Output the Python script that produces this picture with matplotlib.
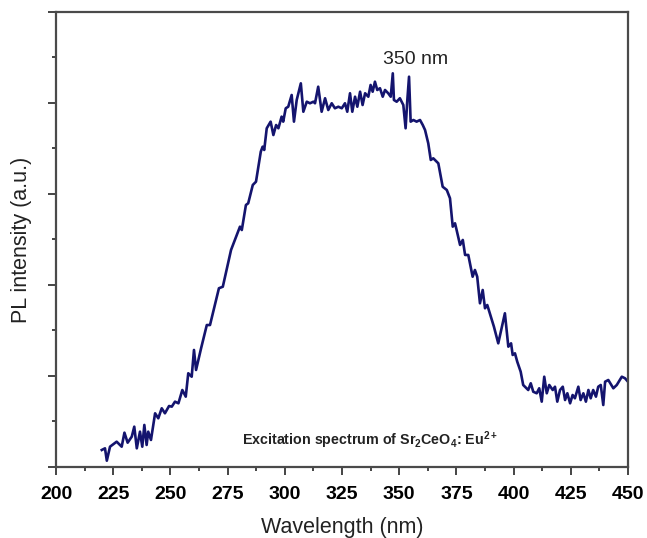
import matplotlib.pyplot as plt
import numpy as np

plt.rcParams['font.family'] = 'Liberation Sans'
plt.rcParams['mathtext.fontset'] = 'custom'
plt.rcParams['mathtext.bf'] = 'Liberation Sans:bold'
plt.rcParams['mathtext.rm'] = 'Liberation Sans'

# Excitation spectrum
wavelength = [
    220.0, 221.4, 222.2, 223.6, 226.5, 228.7, 229.9, 231.3, 233.1, 234.2,
    235.3, 236.7, 237.7, 238.6, 239.6, 240.3, 241.5, 243.3, 244.7, 246.2,
    247.6, 249.4, 250.6, 252.0, 253.5, 255.2, 256.7, 257.8, 259.3, 260.3,
    261.2, 263.4, 265.9, 267.3, 271.2, 272.9, 276.5,
    280.4, 281.2, 283.0, 284.0, 286.0, 287.4, 289.5, 290.3, 291.0, 292.1,
    293.8, 295.0, 296.2, 297.2, 298.6, 299.3, 300.4, 301.5, 303.0, 304.0,
    305.2, 307.0, 308.1, 309.6, 311.0, 312.5, 313.2, 314.6, 316.1, 317.6,
    319.0, 320.5, 321.9, 323.4, 324.9, 326.3, 327.3, 328.5, 329.5, 330.7,
    331.7, 332.9, 334.0, 335.1, 336.5, 337.5, 338.4, 339.4, 340.4, 341.6,
    342.8, 343.8, 345.2, 346.3, 347.2, 347.7, 348.9, 350.3, 351.8, 352.8,
    353.5, 354.3, 355.0, 356.2, 357.6, 359.1, 360.3, 361.3, 362.7, 363.8,
    364.9, 367.1,
    369.0, 370.8, 372.2, 373.4, 374.4, 375.1, 376.6, 377.8, 378.8, 380.2,
    382.1, 383.1, 384.1, 385.3, 386.5, 387.5, 388.5, 389.4, 391.4, 393.3,
    396.2, 397.7, 398.9, 399.6, 400.6, 401.6, 403.1, 404.2, 406.4, 407.5,
    408.6, 410.1, 411.2, 412.3, 413.4, 414.5, 415.6, 417.1, 418.1, 419.1,
    420.3, 421.5, 422.5, 423.5, 424.7, 425.8, 426.8, 428.3, 429.3, 430.5,
    431.6, 432.7, 433.7, 434.8, 436.0, 437.0, 438.1, 439.2, 440.0, 441.4,
    443.6, 445.1, 447.3, 448.7, 450.0,
]
intensity = [
    18.7, 20.5, 6.9, 22.3, 27.8, 22.3, 37.7, 26.7, 33.3, 44.3,
    20.5, 38.8, 22.3, 46.2, 24.2, 38.8, 29.7, 59.0, 53.5, 64.5,
    59.0, 67.0, 66.3, 71.8, 70.0, 84.6, 77.3, 103.0, 99.2, 128.6,
    106.6, 130.4, 156.0, 156.0, 196.4, 198.1, 238.5,
    264.1, 260.4, 287.9, 289.8, 309.9, 313.5, 346.5, 352.0, 348.4, 372.2,
    379.5, 364.8, 375.8, 372.2, 385.0, 379.5, 394.2, 395.9, 408.8, 379.5,
    403.3, 421.6, 390.4, 401.4, 399.7, 401.4, 399.7, 417.9, 390.4, 405.2,
    392.3, 399.7, 394.2, 395.9, 394.2, 399.7, 390.4, 410.7, 390.4, 406.9,
    395.9, 412.4, 397.8, 410.7, 406.9, 419.8, 412.4, 423.4, 414.3, 416.2,
    406.9, 414.3, 410.7, 406.9, 432.6, 403.3, 401.4, 405.2, 397.8, 372.2,
    401.4, 428.9, 379.5, 381.3, 379.5, 381.3, 375.8, 370.3, 355.7, 337.4,
    339.2, 333.7,
    308.0, 304.4, 295.3, 264.1, 267.8, 260.4, 244.0, 249.5, 233.0, 233.0,
    209.1, 216.5, 209.1, 179.9, 194.5, 174.4, 178.0, 170.7, 154.2, 135.9,
    168.9, 132.2, 135.9, 123.1, 124.9, 115.7, 104.7, 90.1, 84.6, 92.0,
    82.7, 81.0, 86.5, 71.8, 99.2, 81.0, 90.1, 84.6, 88.2, 71.8,
    84.6, 88.2, 73.6, 81.0, 70.0, 79.1, 75.5, 88.2, 73.6, 81.0,
    71.8, 84.6, 75.5, 84.6, 77.3, 88.2, 90.1, 68.1, 93.7, 95.6,
    86.5, 90.1, 99.2, 97.5, 93.7,
]

x_ticks = np.arange(200, 451, 25)

fig = plt.figure(figsize=(6.47, 5.38), dpi=100)
ax = fig.add_axes([0.0866, 0.132, 0.884, 0.8457])

ax.plot(wavelength, intensity, color='#14146e', linewidth=1.9)

ax.set_xlim(200, 450)
ax.set_ylim(0, 500)
ax.set_xticks(x_ticks)
ax.set_xticks(np.arange(212.5, 450, 25), minor=True)
ax.set_yticks(np.arange(0, 501, 100))
ax.set_yticks(np.arange(50, 500, 100), minor=True)
ax.tick_params(which='major', direction='out', length=5.5, width=1.4, color='#444444',
               labelsize=14, pad=8)
ax.tick_params(which='minor', direction='out', length=3, width=1.4, color='#444444')
ax.tick_params(axis='y', which='both', labelleft=False)
for lab in ax.get_xticklabels():
    lab.set_fontweight('bold')
for sp in ax.spines.values():
    sp.set_linewidth(1.6)
    sp.set_color('#4a4a4a')

ax.set_xlabel('Wavelength (nm)', fontsize=15.5, labelpad=10, color='#222222')
ax.set_ylabel('PL intensity (a.u.)', fontsize=15.5, labelpad=12, color='#222222')

ax.text(357, 448, '350 nm', fontsize=14, ha='center', va='center', color='#222222')
ax.text(281.3, 29.7, r'Excitation spectrum of Sr$_\mathbf{2}$CeO$_\mathbf{4}$: Eu$^\mathbf{2+}$',
        fontsize=10.3, fontweight='bold', ha='left', va='center', color='#222222')

fig.savefig('out.png', dpi=100)
